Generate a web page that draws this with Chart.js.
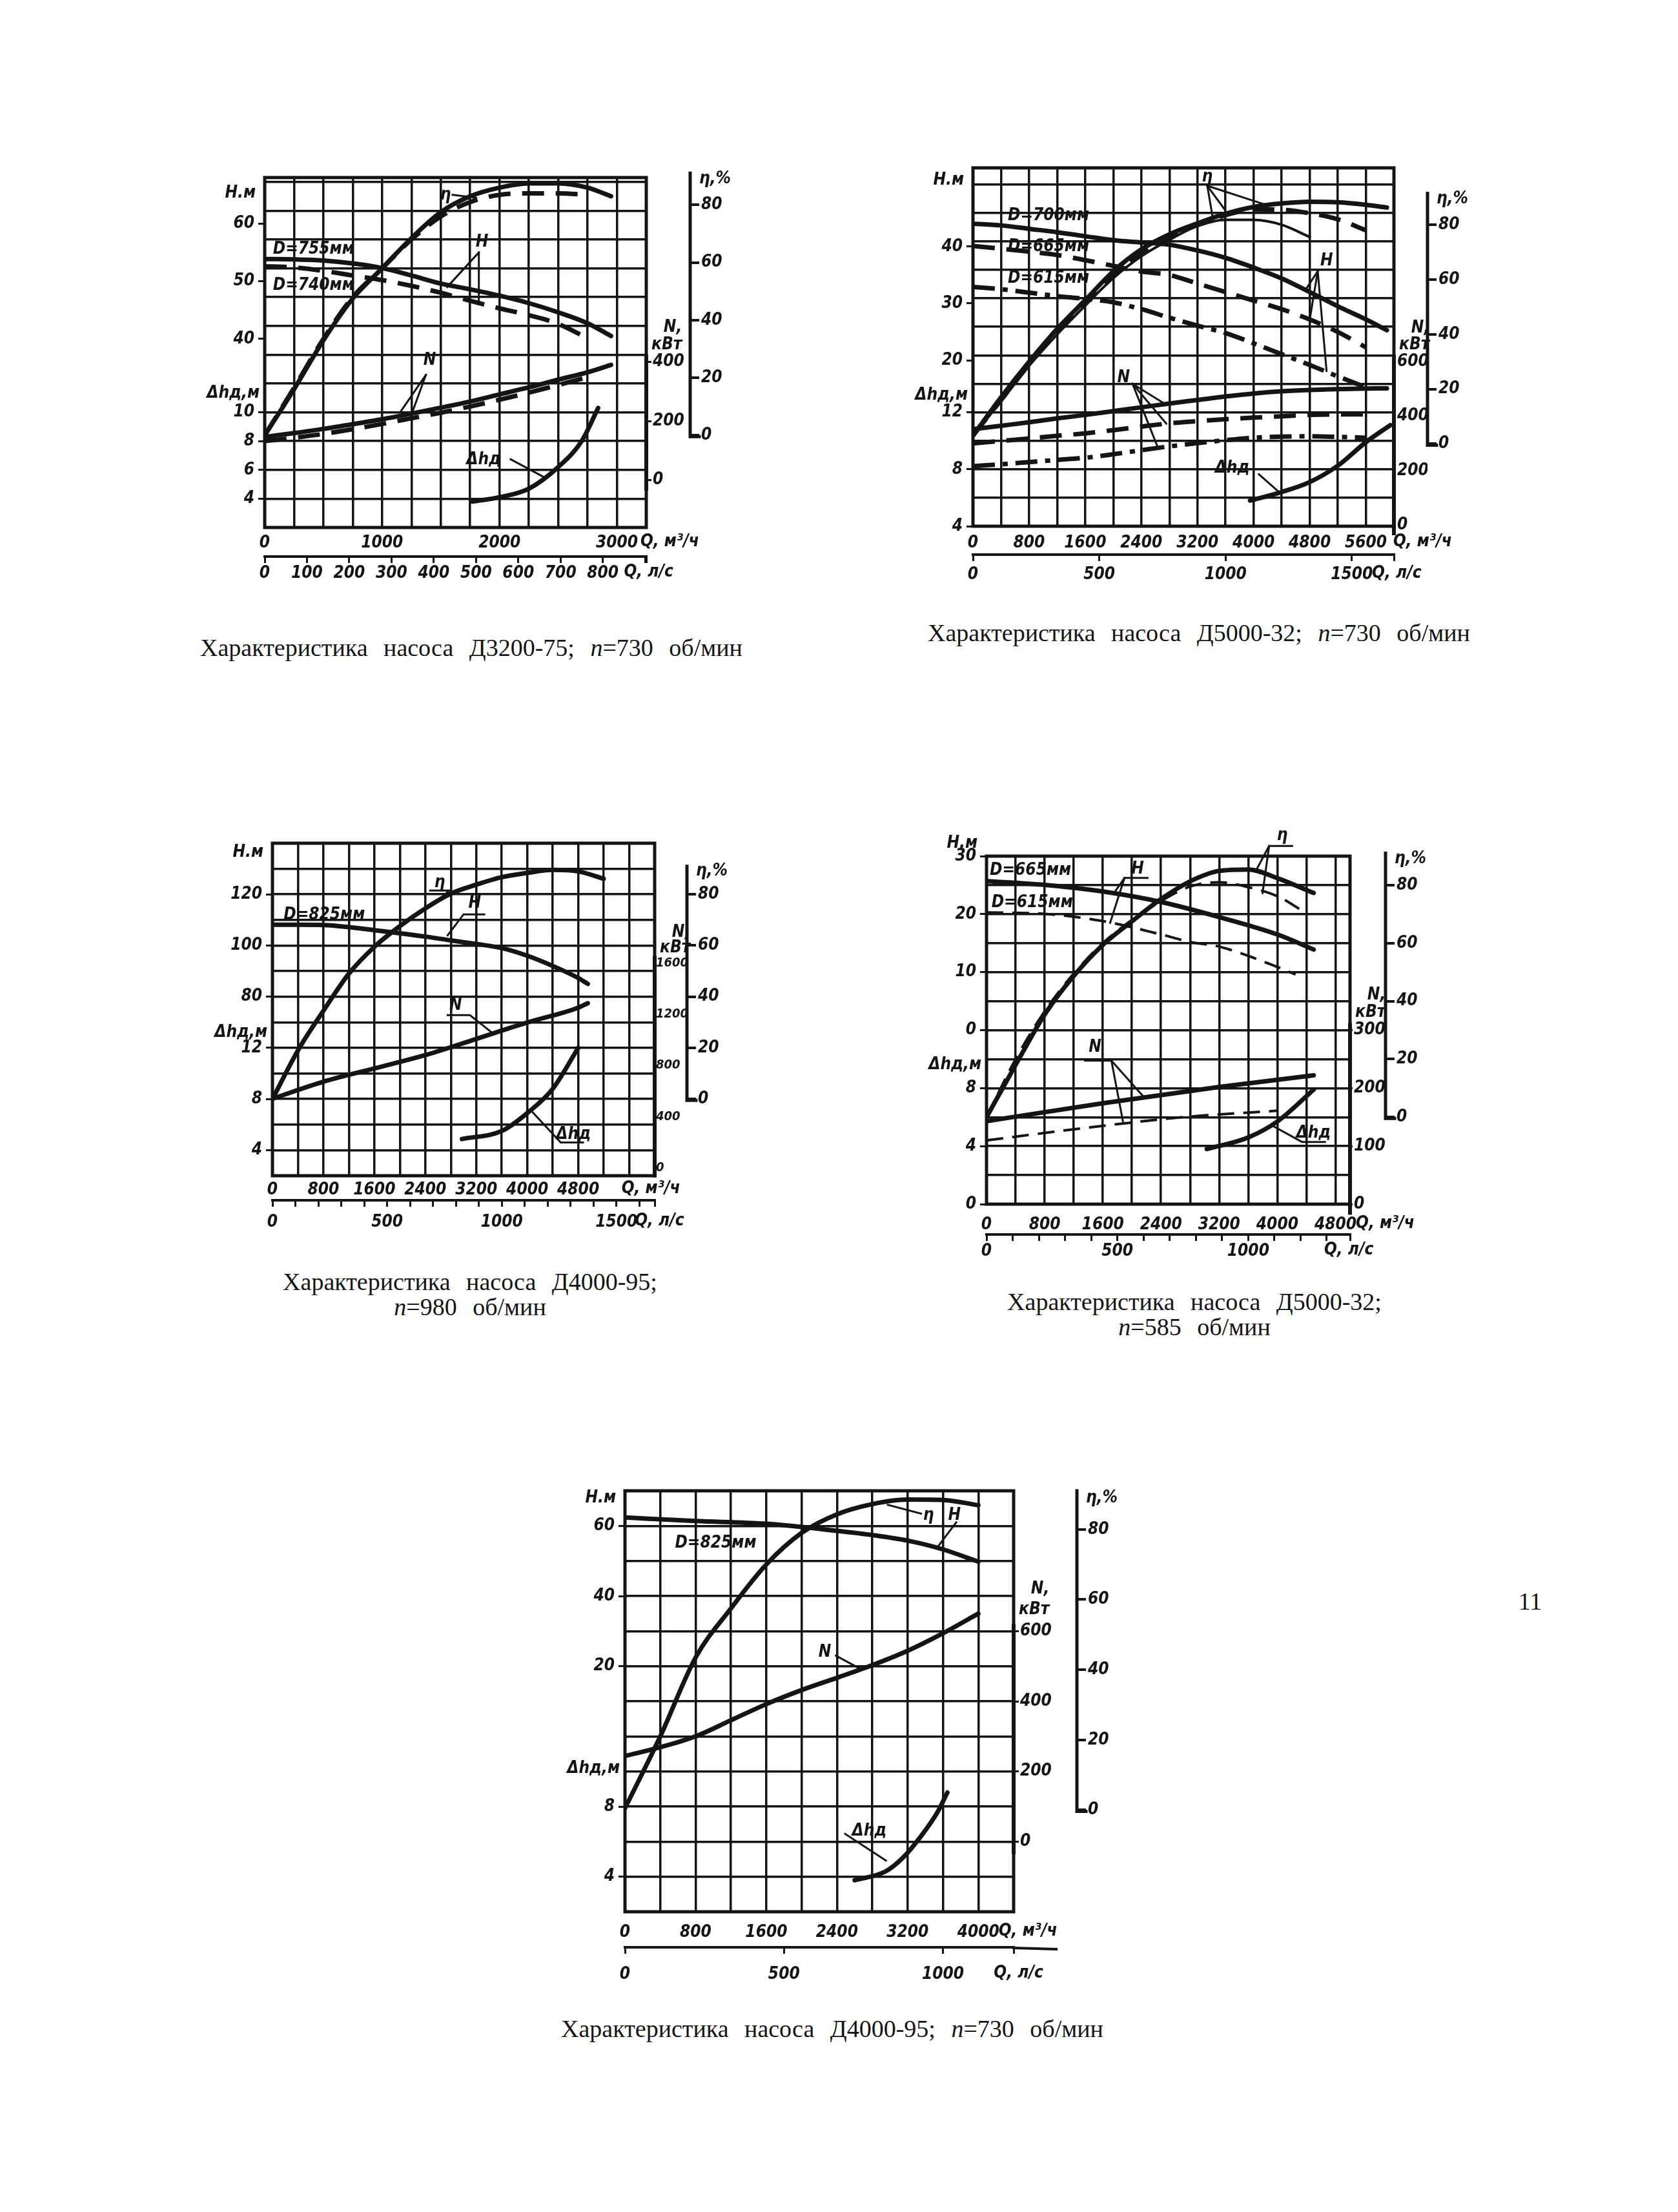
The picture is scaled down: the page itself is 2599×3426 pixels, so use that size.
<!DOCTYPE html>
<html>
<head>
<meta charset="utf-8">
<script src="https://cdn.jsdelivr.net/npm/chart.js@4.4.1/dist/chart.umd.min.js"></script>
<style>
html, body { margin: 0; padding: 0; background: #fff; }
#page { position: relative; width: 2599px; height: 3426px; background: #fff; overflow: hidden; }
canvas { position: absolute; }
.cap { position: absolute; transform: translate(-50%, -50%); font-family: 'Liberation Serif', 'DejaVu Serif', serif;
       font-size: 38px; color: #141414; white-space: nowrap; text-align: center; line-height: 39px; word-spacing: 15px; }
.cap i { font-style: italic; }
</style>
</head>
<body>
<div id="page"></div>
<script>

// Д3200-75, n=730
const d1_q = [0, 250, 500, 750, 1000, 1250, 1500, 1750, 2000, 2250, 2500, 2750, 2950];
const d1_eta755 = [0, 16, 33, 47.5, 58, 68.5, 77.5, 83, 86, 87.5, 87.5, 86, 83];
const d1_eta740 = [0, 16.5, 33.5, 48, 58, 68, 76, 81, 83.5, 84, 84, 83.5, null];
const d1_h755 = [53.85, 53.8, 53.6, 53.1, 52.3, 51, 49.6, 48.6, 47.5, 46.2, 44.6, 42.7, 40.5];
const d1_h740 = [52.6, 52.4, 51.8, 51, 50.2, 49.2, 48, 46.6, 45.3, 44.1, 42.6, 40.1, null];
const d1_n755 = [146, 159, 173, 189, 206, 225, 245, 266, 290, 314, 340, 365, 390];
const d1_n740 = [132, 143, 156, 172, 190, 209, 228, 249, 272, 296, 322, 348, null];
const d1_dhQ = [1770, 2000, 2250, 2500, 2700, 2840];
const d1_dh = [3.8, 4.1, 4.7, 6.2, 8.0, 10.3];
const d1_qTicks = [0, 1000, 2000, 3000];
const d1_lsTicks = [0, 100, 200, 300, 400, 500, 600, 700, 800];
const d1_hTicks = [40, 50, 60];
const d1_dhTicks = [4, 6, 8, 10];
const d1_nTicks = [0, 200, 400];

// Д5000-32, n=730
const d2_q = [0, 400, 800, 1200, 1600, 2000, 2400, 2800, 3200, 3600, 4000, 4400, 4800, 5200, 5600, 5900];
const d2_eta700 = [3, 17, 30, 42, 52.5, 63, 71, 76.5, 80.5, 84, 86.5, 87.8, 88.4, 88.2, 87.3, 86.3];
const d2_eta665 = [3, 16, 29, 41, 51.5, 61.5, 69.5, 75.5, 80, 83.5, 85.6, 85.5, 84.2, 82, 78, null];
const d2_eta615 = [3, 15.5, 28.5, 40, 50.5, 60.5, 68.5, 74.5, 79.5, 81.8, 81.8, 80, 75.5, null, null, null];
const d2_h700 = [44, 43.7, 43.1, 42.5, 41.8, 41.1, 40.7, 40.3, 39.3, 38, 36.3, 34.4, 32, 29.5, 27.2, 25.3];
const d2_h665 = [40.1, 39.6, 39.1, 38.5, 37.6, 36.6, 35.6, 35, 33.5, 32, 30.5, 29, 27.2, 25, 22.3, null];
const d2_h615 = [32.9, 32.5, 31.9, 31.3, 30.8, 30.2, 29, 27.5, 26.1, 24.8, 23, 21.1, 19.2, 17.2, 15.3, null];
const d2_n700 = [352, 365, 378, 392, 405, 419, 433, 447, 460, 473, 484, 492, 497, 500, 502, 503];
const d2_n665 = [300, 309, 318, 328, 337, 349, 362, 374, 382, 389, 395, 400, 405, 407, 407, null];
const d2_n615 = [216, 223, 231, 239, 247, 260, 275, 289, 301, 312, 321, 325, 326, 324, 321, null];
const d2_dhQ = [3950, 4400, 4800, 5200, 5600, 5950];
const d2_dh = [5.8, 6.4, 7.1, 8.25, 9.9, 11.1];
const d2_qTicks = [0, 800, 1600, 2400, 3200, 4000, 4800, 5600];
const d2_lsTicks = [0, 500, 1000, 1500];
const d2_hTicks = [20, 30, 40];
const d2_dhTicks = [4, 8, 12];
const d2_nTicks = [0, 200, 400, 600];

// Д4000-95, n=980
const d3_q = [0, 400, 800, 1200, 1600, 2000, 2400, 2800, 3200, 3600, 4000, 4400, 4800, 5200];
const d3_eta = [0, 19, 34.5, 49, 59.5, 67.6, 74.5, 80.3, 83.8, 86.7, 88.4, 89.6, 89, 86.1];
const d3_hQ = [0, 400, 800, 1200, 1600, 2000, 2400, 2800, 3200, 3600, 4000, 4400, 4800, 4950];
const d3_h = [108.1, 108.1, 108, 107.2, 106, 104.8, 103.5, 102, 100.6, 99, 96, 92, 87.3, 85];
const d3_nQ = [0, 800, 1600, 2400, 3200, 4000, 4800, 4950];
const d3_n = [540, 673, 777, 881, 1008, 1136, 1252, 1287];
const d3_dhQ = [2975, 3600, 4000, 4400, 4800];
const d3_dh = [4.87, 5.5, 6.9, 8.8, 12.0];
const d3_qTicks = [0, 800, 1600, 2400, 3200, 4000, 4800];
const d3_lsTicks = [0, 500, 1000, 1500];
const d3_hTicks = [80, 100, 120];
const d3_dhTicks = [4, 8, 12];
const d3_nTicks = [0, 400, 800, 1200, 1600];

// Д5000-32, n=585
const d4_etaQ = [0, 400, 800, 1200, 1600, 2000, 2400, 2800, 3200, 3600, 4000, 4500];
const d4_eta665 = [0, 18, 35.4, 48.7, 59.4, 67.5, 75.2, 81.3, 84.9, 85.4, 82.4, 77.3];
const d4_eta615Q = [0, 400, 800, 1200, 1600, 2000, 2400, 2800, 3200, 3600, 4000, 4350];
const d4_eta615 = [0, 20, 36.5, 49.5, 60, 68, 74.5, 79.5, 81, 79.3, 76.2, 71.1];
const d4_hQ = [0, 800, 1600, 2400, 3200, 4000, 4500];
const d4_h665 = [25.7, 25.05, 23.9, 22.1, 19.5, 16.5, 13.9];
const d4_h615Q = [0, 800, 1600, 2400, 2800, 3200, 4000, 4250];
const d4_h615 = [20.3, 20.05, 18.8, 16.5, 15.2, 14.4, 10.9, 9.6];
const d4_nQ = [0, 1600, 3200, 4500];
const d4_n665 = [143, 174, 202, 222];
const d4_n615Q = [0, 1600, 2800, 4000];
const d4_n615 = [110, 135, 151, 161];
const d4_dhQ = [3030, 3600, 4000, 4500];
const d4_dh = [3.8, 4.6, 5.7, 7.9];
const d4_qTicks = [0, 800, 1600, 2400, 3200, 4000, 4800];
const d4_lsTicks = [0, 500, 1000];
const d4_hTicks = [0, 10, 20, 30];
const d4_dhTicks = [0, 4, 8];
const d4_nTicks = [0, 100, 200, 300];

// Д4000-95, n=730
const d5_q = [0, 400, 800, 1200, 1600, 2000, 2400, 2800, 3200, 3600, 4000];
const d5_eta = [0.5, 21, 43.5, 57.5, 70, 79, 84.3, 87.2, 88.5, 88.4, 86.9];
const d5_n = [244, 269, 300, 346, 392, 432, 467, 503, 544, 594, 650];
const d5_hQ = [0, 800, 1600, 2400, 2800, 3200, 3600, 4000];
const d5_h = [62.4, 61.4, 60.6, 58.6, 57.4, 55.8, 53.3, 49.8];
const d5_dhQ = [2600, 2950, 3150, 3350, 3540, 3650];
const d5_dh = [3.8, 4.3, 5.1, 6.3, 7.7, 8.8];
const d5_qTicks = [0, 800, 1600, 2400, 3200, 4000];
const d5_lsTicks = [0, 500, 1000];
const d5_hTicks = [20, 40, 60];
const d5_dhTicks = [4, 8];
const d5_nTicks = [0, 200, 400, 600];

const etaTicks = [0, 20, 40, 60, 80];

const INK = '#141414';
const FONT = "'Liberation Sans Narrow', 'DejaVu Sans Condensed', 'Liberation Sans', sans-serif";
const FS = 26;
const DASH = [34, 18];
const DASHDOT = [34, 12, 8, 12];

// рамка, поля и связь шкал с сеткой: значение = a + b * (номер клетки)
const charts = [
  {
    frame: [410, 275, 1001, 817], padL: 95, padT: 60, wN: 68, wE: 95, hX: 45, hX2: 58, pX: 9, pX2: 1, tlN: 8,
    gMax: 12.15, xMax: 3250, xStep: 250, lsStep: 100,
    dh: [2, 2], h: [7.25, 5], n: [-161, 97.6], eta: [-32, 10],
    qTicks: d1_qTicks, lsTicks: d1_lsTicks, hTicks: d1_hTicks, dhTicks: d1_dhTicks, nTicks: d1_nTicks,
    hTitleG: 11.6, dhTitleG: 4.65, qTitle: 3200, lsTitle: 850,
    curves: [
      { q: d1_q, v: d1_eta755, ax: 'yE' }, { q: d1_q, v: d1_eta740, ax: 'yE', dash: DASH },
      { q: d1_q, v: d1_h755, ax: 'yH' }, { q: d1_q, v: d1_h740, ax: 'yH', dash: DASH },
      { q: d1_q, v: d1_n755, ax: 'yN' }, { q: d1_q, v: d1_n740, ax: 'yN', dash: DASH },
      { q: d1_dhQ, v: d1_dh, ax: 'yD' }
    ],
    notes: [
      { t: 'η', q: 1540, d: 25.1, lines: [[[1600, 25.1], [1800, 24.9]]] },
      { t: 'H', q: 1851, d: 21.8, lines: [[[1824, 21.1], [1554, 18.7]], [[1824, 21.1], [1824, 17.7], [1730, 17.8]]] },
      { t: 'D=755мм', q: 70, d: 21.3, al: 'left' },
      { t: 'D=740мм', q: 70, d: 18.8, al: 'left' },
      { t: 'N', q: 1405, d: 13.6, lines: [[[1373, 12.6], [1162, 10.1]], [[1373, 12.6], [1257, 10.0]]] },
      { t: 'Δhд', q: 1865, d: 6.7, lines: [[[2095, 6.74], [2378, 5.5]]] }
    ]
  },
  {
    frame: [1507, 260, 2159, 815], padL: 95, padT: 60, wN: 52, wE: 95, hX: 44, hX2: 60, pX: 11, pX2: 6, tlN: 3,
    gMax: 12.58, xMax: 6000, xStep: 400, lsStep: 500,
    dh: [4, 2], h: [-9.1, 5], n: [-5.25, 105], eta: [-30.06, 10.4],
    qTicks: d2_qTicks, lsTicks: d2_lsTicks, hTicks: d2_hTicks, dhTicks: d2_dhTicks, nTicks: d2_nTicks,
    hTitleG: 12.15, dhTitleG: 4.6, qTitle: 5990, lsTitle: 1580,
    curves: [
      { q: d2_q, v: d2_eta700, ax: 'yE' }, { q: d2_q, v: d2_eta665, ax: 'yE', dash: DASH },
      { q: d2_q, v: d2_eta615, ax: 'yE', w: 4 },
      { q: d2_q, v: d2_h700, ax: 'yH' }, { q: d2_q, v: d2_h665, ax: 'yH', dash: DASH },
      { q: d2_q, v: d2_h615, ax: 'yH', dash: DASHDOT },
      { q: d2_q, v: d2_n700, ax: 'yN' }, { q: d2_q, v: d2_n665, ax: 'yN', dash: DASH },
      { q: d2_q, v: d2_n615, ax: 'yN', dash: DASHDOT },
      { q: d2_dhQ, v: d2_dh, ax: 'yD' }
    ],
    notes: [
      { t: 'η', q: 3340, d: 28.5, lines: [[[3340, 27.9], [3594, 26.2]], [[3340, 27.9], [3416, 25.7]], [[3340, 27.9], [4152, 26.6]]] },
      { t: 'D=700мм', q: 497, d: 25.8, al: 'left' },
      { t: 'D=665мм', q: 497, d: 23.6, al: 'left' },
      { t: 'D=615мм', q: 497, d: 21.4, al: 'left' },
      { t: 'H', q: 5040, d: 22.6, lines: [[[4914, 21.9], [4740, 20.6]], [[4914, 21.9], [4800, 18.5]], [[4914, 21.9], [5040, 14.9]]] },
      { t: 'N', q: 2147, d: 14.4, lines: [[[2274, 14.0], [2731, 12.6]], [[2274, 14.0], [2756, 11.2]], [[2274, 14.0], [2629, 9.6]]] },
      { t: 'Δhд', q: 3695, d: 8.05, lines: [[[4076, 7.64], [4355, 6.43]]] }
    ]
  },
  {
    frame: [422, 1306, 1014, 1821], padL: 95, padT: 55, wN: 50, wE: 95, hX: 38, hX2: 60, pX: 7, pX2: 9, tlN: 0, nFont: 20,
    gMax: 13, xMax: 6000, xStep: 400, lsStep: 100,
    dh: [2, 2], h: [10, 10], n: [-62, 200], eta: [-30, 10],
    qTicks: d3_qTicks, lsTicks: d3_lsTicks, hTicks: d3_hTicks, dhTicks: d3_dhTicks, nTicks: d3_nTicks,
    hTitleG: 12.65, dhTitleG: 5.6, qTitle: 5480, lsTitle: 1580,
    curves: [
      { q: d3_q, v: d3_eta, ax: 'yE' }, { q: d3_hQ, v: d3_h, ax: 'yH' },
      { q: d3_nQ, v: d3_n, ax: 'yN' }, { q: d3_dhQ, v: d3_dh, ax: 'yD' }
    ],
    notes: [
      { t: 'η', q: 2625, d: 24.9, lines: [[[2475, 24.3], [2775, 24.3], [2575, 23.4]]] },
      { t: 'D=825мм', q: 175, d: 22.4, al: 'left' },
      { t: 'H', q: 3175, d: 23.3, lines: [[[3325, 22.44], [3000, 22.44], [2750, 20.8]]] },
      { t: 'N', q: 2875, d: 15.3, lines: [[[2750, 14.56], [3100, 14.56], [3450, 13.17]]] },
      { t: 'Δhд', q: 4725, d: 5.2, lines: [[[4875, 4.6], [4525, 4.6], [4050, 7.14]]] }
    ]
  },
  {
    frame: [1528, 1326, 2091, 1865], padL: 95, padT: 60, wN: 55, wE: 95, hX: 47, hX2: 58, pX: 17, pX2: 1, tlN: 4,
    gMax: 12, xMax: 5000, xStep: 400, lsStep: 100,
    dh: [0, 2], h: [-30, 5], n: [0, 50], eta: [-30, 10],
    qTicks: d4_qTicks, lsTicks: d4_lsTicks, hTicks: d4_hTicks, dhTicks: d4_dhTicks, nTicks: d4_nTicks,
    hTitleG: 12.45, dhTitleG: 4.8, qTitle: 5080, lsTitle: 1290,
    curves: [
      { q: d4_etaQ, v: d4_eta665, ax: 'yE' }, { q: d4_eta615Q, v: d4_eta615, ax: 'yE', dash: [26, 14], w: 4 },
      { q: d4_hQ, v: d4_h665, ax: 'yH' }, { q: d4_h615Q, v: d4_h615, ax: 'yH', dash: [26, 14], w: 4 },
      { q: d4_nQ, v: d4_n665, ax: 'yN' }, { q: d4_n615Q, v: d4_n615, ax: 'yN', dash: [26, 14], w: 4 },
      { q: d4_dhQ, v: d4_dh, ax: 'yD' }
    ],
    notes: [
      { t: 'D=665мм', q: 45, d: 23.0, al: 'left' },
      { t: 'D=615мм', q: 68, d: 20.8, al: 'left' },
      { t: 'H', q: 2079, d: 23.1, lines: [[[2215, 22.5], [1898, 22.5], [1760, 21.5]], [[1898, 22.5], [1700, 19.4]]] },
      { t: 'η', q: 4068, d: 25.4, lines: [[[4204, 24.7], [3887, 24.7], [3706, 23.0]], [[3887, 24.7], [3797, 21.45]]] },
      { t: 'N', q: 1492, d: 10.8, lines: [[[1356, 9.9], [1718, 9.9], [2170, 7.35]], [[1718, 9.9], [1876, 5.72]]] },
      { t: 'Δhд', q: 4497, d: 4.9, lines: [[[4656, 4.29], [4339, 4.29], [3932, 5.41]]] }
    ]
  },
  {
    frame: [968, 2309, 1570, 2961], padL: 95, padT: 55, wN: 98, wE: 95, hX: 55, hX2: 66, pX: 17, pX2: 17, tlN: 8, lsExt: 66,
    gMax: 12, xMax: 4400, xStep: 400, lsStep: 500,
    dh: [2, 2], h: [-50, 10], n: [-200, 100], eta: [-29, 10],
    qTicks: d5_qTicks, lsTicks: d5_lsTicks, hTicks: d5_hTicks, dhTicks: d5_dhTicks, nTicks: d5_nTicks,
    hTitleG: 11.8, dhTitleG: 4.08, qTitle: 4230, lsTitle: 1160,
    curves: [
      { q: d5_q, v: d5_eta, ax: 'yE' }, { q: d5_hQ, v: d5_h, ax: 'yH' },
      { q: d5_q, v: d5_n, ax: 'yN' }, { q: d5_dhQ, v: d5_dh, ax: 'yD' }
    ],
    notes: [
      { t: 'η', q: 3436, d: 24.6, lines: [[[3352, 24.7], [2975, 25.2]]] },
      { t: 'H', q: 3729, d: 24.6, lines: [[[3750, 24.2], [3540, 22.8]]] },
      { t: 'D=825мм', q: 566, d: 23.0, al: 'left' },
      { t: 'N', q: 2263, d: 16.8, lines: [[[2388, 16.6], [2682, 15.8]]] },
      { t: 'Δhд', q: 2766, d: 6.6, lines: [[[2493, 6.44], [2954, 4.92]]] }
    ]
  }
];

const captions = [
  { x: 730, y: 1003, html: 'Характеристика насоса Д3200-75; <i>n</i>=730 об/мин' },
  { x: 1857, y: 980, html: 'Характеристика насоса Д5000-32; <i>n</i>=730 об/мин' },
  { x: 728, y: 2005, html: 'Характеристика насоса Д4000-95;<br><i>n</i>=980 об/мин' },
  { x: 1850, y: 2036, html: 'Характеристика насоса Д5000-32;<br><i>n</i>=585 об/мин' },
  { x: 1289, y: 3142, html: 'Характеристика насоса Д4000-95; <i>n</i>=730 об/мин' },
  { x: 2370, y: 2480, html: '11' }
];

function steps(max, step) {
  const out = [];
  for (let i = 0; i * step <= max + 1e-9; i++) out.push(i * step);
  if (out[out.length - 1] < max - 1e-9) out.push(max);
  return out;
}

function decor(cfg) {
  return {
    id: 'decor',
    afterDraw(chart) {
      const ctx = chart.ctx, a = chart.chartArea, sc = chart.scales;
      const gpx = (a.bottom - a.top) / cfg.gMax;
      const gy = g => a.bottom - g * gpx;
      const poly = p => {
        ctx.beginPath();
        p.forEach((pt, i) => i ? ctx.lineTo(pt[0], pt[1]) : ctx.moveTo(pt[0], pt[1]));
        ctx.stroke();
      };
      ctx.save();
      ctx.strokeStyle = INK;
      ctx.fillStyle = INK;
      ctx.lineCap = 'square';

      // рамка
      ctx.lineWidth = 5;
      ctx.strokeRect(a.left, a.top, a.right - a.left, a.bottom - a.top);

      // продолжение оси л/с
      if (cfg.lsExt) {
        ctx.lineWidth = 4;
        poly([[a.right, sc.x2.top + 1], [a.right + cfg.lsExt, sc.x2.top + 3]]);
      }

      // отрезок оси N
      const yN = sc.yN;
      const nTop = yN.getPixelForValue(Math.max(...cfg.nTicks));
      const nBot = yN.getPixelForValue(Math.min(...cfg.nTicks)) + 0.3 * gpx;
      ctx.lineWidth = 6;
      poly([[yN.left, nTop - 8], [yN.left, nBot]]);

      // ось КПД
      const yE = sc.yE;
      const eTop = yE.getPixelForValue(80 + 1.1 * cfg.eta[1]);
      const e0 = yE.getPixelForValue(0);
      ctx.lineWidth = 5;
      poly([[yE.left, eTop], [yE.left, e0 + 2], [yE.left + 14, e0 + 2]]);

      // подписи осей
      ctx.font = 'italic bold ' + FS + 'px ' + FONT;
      ctx.textBaseline = 'middle';
      ctx.textAlign = 'right';
      ctx.fillText('H.м', a.left - 14, gy(cfg.hTitleG));
      ctx.fillText('Δhд,м', a.left - 8, gy(cfg.dhTitleG));
      const kw = ctx.measureText('кВт').width;
      ctx.fillText('N,', yN.left + 8 + kw, nTop - 1.2 * gpx);
      ctx.textAlign = 'left';
      ctx.fillText('кВт', yN.left + 8, nTop - 0.6 * gpx);
      ctx.fillText('η,%', yE.left + 14, yE.getPixelForValue(80 + 0.9 * cfg.eta[1]));
      ctx.fillText('Q, м³/ч', sc.x.getPixelForValue(cfg.qTitle), a.bottom + cfg.pX + FS / 2);
      ctx.fillText('Q, л/с', sc.x2.getPixelForValue(cfg.lsTitle), sc.x2.top + 10 + cfg.pX2 + FS / 2);

      // обозначения кривых
      const px = p => [sc.x.getPixelForValue(p[0]), sc.yD.getPixelForValue(p[1])];
      cfg.notes.forEach(nt => {
        ctx.textAlign = nt.al || 'center';
        const p = px([nt.q, nt.d]);
        ctx.fillText(nt.t, p[0], p[1]);
        ctx.lineWidth = 3;
        (nt.lines || []).forEach(l => poly(l.map(px)));
      });
      ctx.restore();
    }
  };
}

function makeChart(cfg) {
  const [L, T, R, B] = cfg.frame;
  const W = cfg.padL + (R - L) + cfg.wN + cfg.wE;
  const Hc = cfg.padT + (B - T) + cfg.hX + cfg.hX2;
  const cv = document.createElement('canvas');
  cv.width = W;
  cv.height = Hc;
  cv.style.left = (L - cfg.padL) + 'px';
  cv.style.top = (T - cfg.padT) + 'px';
  document.getElementById('page').appendChild(cv);

  const range = p => ({ min: p[0], max: p[0] + p[1] * cfg.gMax });
  const toH = d => cfg.h[0] + cfg.h[1] * (d - cfg.dh[0]) / cfg.dh[1];
  const leftTicks = cfg.hTicks.map(v => ({ value: v, label: String(v) }))
    .concat(cfg.dhTicks.map(v => ({ value: toH(v), label: String(v) })));

  const datasets = cfg.curves.map(c => ({
    data: c.q.map((x, i) => ({ x: x, y: c.v[i] })),
    yAxisID: c.ax,
    borderColor: INK,
    borderWidth: c.w || 7,
    borderDash: c.dash || [],
    borderCapStyle: c.dash ? 'butt' : 'round',
    pointRadius: 0,
    fill: false,
    cubicInterpolationMode: 'monotone'
  }));

  const tf = size => ({ family: FONT, size: size || FS, style: 'italic', weight: 'bold' });
  const tk = (extra, size) => Object.assign({ color: INK, font: tf(size), autoSkip: false, maxRotation: 0 }, extra);

  new Chart(cv, {
    type: 'line',
    data: { datasets: datasets },
    options: {
      responsive: false,
      animation: false,
      devicePixelRatio: 1,
      events: [],
      layout: { padding: { top: cfg.padT, left: 0, right: 0, bottom: 0 } },
      plugins: { legend: { display: false }, tooltip: { enabled: false } },
      scales: {
        x: {
          type: 'linear', position: 'bottom', weight: 0, min: 0, max: cfg.xMax,
          afterBuildTicks: s => { s.ticks = steps(cfg.xMax, cfg.xStep).map(v => ({ value: v })); },
          ticks: tk({ padding: cfg.pX, callback: v => cfg.qTicks.includes(v) ? String(v) : '' }),
          grid: { color: INK, lineWidth: 3.5, drawTicks: false },
          border: { display: false },
          afterFit: s => { s.height = cfg.hX; }
        },
        x2: {
          type: 'linear', position: 'bottom', weight: 1, min: 0, max: cfg.xMax / 3.6,
          afterBuildTicks: s => { s.ticks = steps(cfg.xMax / 3.6, cfg.lsStep).map(v => ({ value: v })); },
          ticks: tk({ padding: cfg.pX2, callback: v => cfg.lsTicks.includes(v) ? String(v) : '' }),
          grid: { drawOnChartArea: false, color: INK, lineWidth: 3, tickLength: 10 },
          border: { display: true, color: INK, width: 4 },
          afterFit: s => { s.height = cfg.hX2; }
        },
        yD: Object.assign(range(cfg.dh), {
          type: 'linear', position: 'left', weight: 0,
          afterBuildTicks: s => {
            s.ticks = steps(cfg.dh[1] * cfg.gMax, cfg.dh[1]).map(v => ({ value: cfg.dh[0] + v }));
          },
          ticks: { display: false },
          grid: { color: INK, lineWidth: 3.5, drawTicks: false },
          border: { display: false },
          afterFit: s => { s.width = 0; }
        }),
        yH: Object.assign(range(cfg.h), {
          type: 'linear', position: 'left', weight: 1,
          afterBuildTicks: s => { s.ticks = leftTicks.map(t => ({ value: t.value })); },
          ticks: tk({ padding: 6, callback: (v, i) => leftTicks[i].label }),
          grid: { drawOnChartArea: false, color: INK, lineWidth: 3, tickLength: 10 },
          border: { display: false },
          afterFit: s => { s.width = cfg.padL; }
        }),
        yN: Object.assign(range(cfg.n), {
          type: 'linear', position: 'right', weight: 0,
          afterBuildTicks: s => { s.ticks = cfg.nTicks.map(v => ({ value: v })); },
          ticks: tk({ padding: 2, callback: v => String(v) }, cfg.nFont),
          grid: { drawOnChartArea: false, color: INK, lineWidth: 3, tickLength: cfg.tlN },
          border: { display: false },
          afterFit: s => { s.width = cfg.wN; }
        }),
        yE: Object.assign(range(cfg.eta), {
          type: 'linear', position: 'right', weight: 1,
          afterBuildTicks: s => { s.ticks = etaTicks.map(v => ({ value: v })); },
          ticks: tk({ padding: 3, callback: v => String(v) }),
          grid: { drawOnChartArea: false, color: INK, lineWidth: 4, tickLength: 14 },
          border: { display: false },
          afterFit: s => { s.width = cfg.wE; }
        })
      }
    },
    plugins: [decor(cfg)]
  });
}

charts.forEach(makeChart);

captions.forEach(c => {
  const d = document.createElement('div');
  d.className = 'cap';
  d.style.left = c.x + 'px';
  d.style.top = c.y + 'px';
  d.innerHTML = c.html;
  document.getElementById('page').appendChild(d);
});
</script>
</body>
</html>
